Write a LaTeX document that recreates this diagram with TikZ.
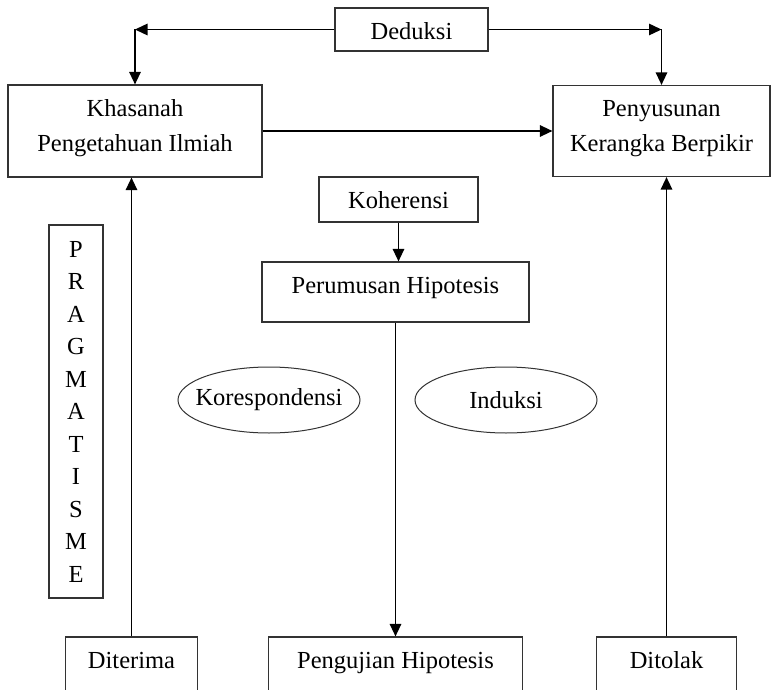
\documentclass[tikz,border=0pt]{standalone}
\usepackage{fontspec}
\setmainfont{Liberation Serif}
\usetikzlibrary{shapes.geometric, arrows.meta}

\begin{document}
\begin{tikzpicture}[node distance=2cm, x=1pt, y=1pt,
    kotak/.style 2 args={rectangle, draw=black!80, line width=1.2pt, inner sep=0pt,
      font=\fontsize{24.5pt}{35pt}\selectfont,
      execute at begin node={\begin{minipage}[t][#2][t]{#1}\centering\vspace*{7pt}\strut},
      execute at end node={\end{minipage}}},
    bulat/.style={ellipse, draw=black!80, line width=1pt, inner sep=0pt,
      minimum width=182pt, minimum height=66pt, font=\fontsize{24.5pt}{35pt}\selectfont},
    line/.style={draw, line width=1.4pt, -{Triangle[length=12.5pt, width=11.5pt]}}]

\path [use as bounding box, clip] (-135,131) rectangle (641,-559);

\node [kotak={254pt}{92pt}] (khasanah) at (0,0) {Khasanah\\Pengetahuan Ilmiah};
\node [kotak={217pt}{91pt}, right of=khasanah, node distance=526.5pt] (penyusunan) {Penyusunan\\Kerangka Berpikir};
\node [kotak={153pt}{43pt}] (deduksi) at (276.5,101.5) {Deduksi};
\node [kotak={159pt}{45pt}] (koherensi) at (263.5,-68.5) {Koherensi};
\node [kotak={267pt}{60pt}, below of=koherensi, node distance=92.5pt, xshift=-3pt] (perumusan) {Perumusan Hipotesis};
\node [kotak={254pt}{70pt}, below of=perumusan, node distance=380pt] (pengujian) {Pengujian Hipotesis};
\node [kotak={132pt}{70pt}, left of=pengujian, node distance=264pt] (diterima) {Diterima};
\node [kotak={140pt}{70pt}, right of=pengujian, node distance=271pt] (ditolak) {Ditolak};
\node [draw=black!80, line width=1.2pt, align=center, minimum width=54pt, minimum height=373pt,
    font=\fontsize{24.5pt}{32.5pt}\selectfont] (pragmatisme) at (-59,-280.5) {P\\R\\A\\G\\M\\A\\T\\I\\S\\M\\E};
\node [bulat] (korespondensi) at (134,-269) {\makebox[0pt]{Korespondensi}};
\node [bulat, right of=korespondensi, node distance=237pt] (induksi) {\makebox[0pt]{Induksi}};

\coordinate (kiri) at (deduksi -| khasanah);
\coordinate (kanan) at (deduksi -| penyusunan);

\path [line] (deduksi) -- (kiri);
\path [line] (kiri) -- (khasanah);
\path [line] (deduksi) -- (kanan);
\path [line] (kanan) -- (penyusunan);
\path [line] (khasanah) -- (penyusunan);
\path [line] (koherensi) -- (koherensi |- perumusan.north);
\path [line] (perumusan) -- (pengujian);
\path [line] (diterima) -- (diterima |- khasanah.south);
\path [line] (ditolak) -- (ditolak |- penyusunan.south);
\end{tikzpicture}
\end{document}
